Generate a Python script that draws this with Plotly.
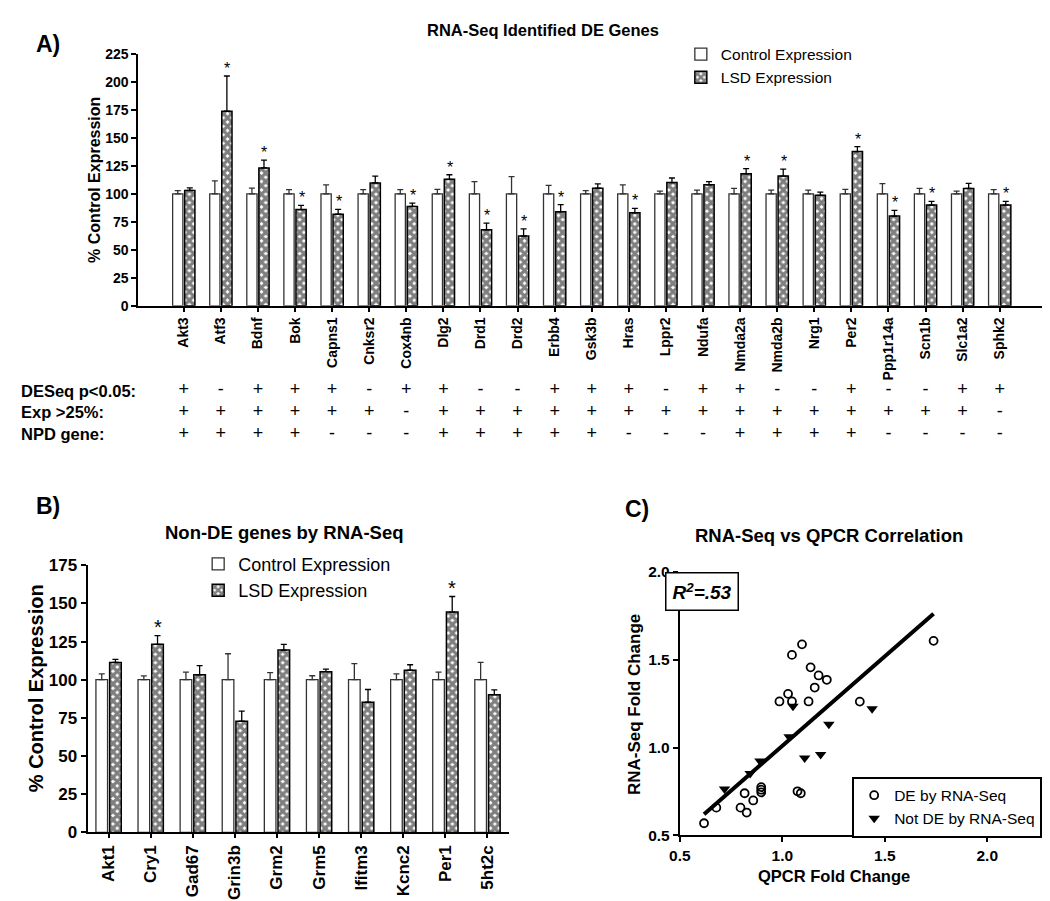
import plotly.graph_objects as go

W, H = 1050, 901
FONT = "Liberation Sans, Arial, Helvetica, sans-serif"

# ---------------- Panel A data ----------------
genes_a = ["Akt3", "Atf3", "Bdnf", "Bok", "Capns1", "Cnksr2", "Cox4nb", "Dlg2", "Drd1", "Drd2",
           "Erbb4", "Gsk3b", "Hras", "Lppr2", "Ndufa", "Nmda2a", "Nmda2b", "Nrg1", "Per2",
           "Ppp1r14a", "Scn1b", "Slc1a2", "Sphk2"]
ctrl_a = [100, 100, 100, 100, 100, 100, 100, 100, 100, 100, 100, 100, 100, 100, 100, 100,
          100, 100, 100, 100, 100, 100, 100]
ctrl_err_a = [3.0, 11.7, 5.2, 3.8, 8.2, 3.8, 3.8, 4.1, 11.0, 15.5, 7.6, 2.9, 8.2, 2.6, 3.5,
              5.0, 3.5, 3.5, 4.1, 9.3, 5.0, 2.6, 3.8]
lsd_a = [103.2, 174.0, 123.3, 86.0, 81.9, 109.9, 88.9, 113.1, 67.9, 62.4, 84.0, 105.2, 83.1,
         110.2, 108.2, 118.1, 116.0, 98.8, 137.9, 80.2, 90.1, 105.0, 90.1]
lsd_err_a = [2.3, 31.5, 7.0, 3.8, 4.4, 6.0, 2.9, 4.1, 6.1, 6.4, 6.4, 3.8, 4.1, 4.1, 2.9, 4.6,
             6.2, 2.9, 4.4, 5.2, 3.2, 4.4, 3.2]
sig_a = ["Atf3", "Bdnf", "Bok", "Capns1", "Cox4nb", "Dlg2", "Drd1", "Drd2", "Erbb4", "Hras",
         "Nmda2a", "Nmda2b", "Per2", "Ppp1r14a", "Scn1b", "Sphk2"]
row_labels = ["DESeq p<0.05:", "Exp >25%:", "NPD gene:"]
deseq = ["+", "-", "+", "+", "+", "-", "+", "+", "-", "-", "+", "+", "+", "-", "+", "+", "-",
         "-", "+", "-", "-", "+", "+"]
exp25 = ["+", "+", "+", "+", "+", "+", "-", "+", "+", "+", "+", "+", "+", "+", "+", "+", "+",
         "+", "+", "+", "+", "+", "-"]
npd = ["+", "+", "+", "+", "-", "-", "-", "+", "+", "+", "+", "+", "-", "-", "-", "+", "+",
       "+", "+", "-", "-", "-", "-"]

# ---------------- Panel B data ----------------
genes_b = ["Akt1", "Cry1", "Gad67", "Grin3b", "Grm2", "Grm5", "Ifitm3", "Kcnc2", "Per1", "5ht2c"]
ctrl_b = [100, 100, 100, 100, 100, 100, 100, 100, 100, 100]
ctrl_err_b = [3.8, 2.5, 5.0, 17.0, 4.7, 2.6, 10.6, 3.8, 5.0, 11.3]
lsd_b = [111.3, 123.2, 103.2, 72.8, 119.4, 105.3, 85.3, 106.2, 144.3, 90.2]
lsd_err_b = [2.0, 5.7, 6.0, 6.6, 3.8, 1.7, 8.3, 3.6, 10.2, 3.2]
sig_b = ["Cry1", "Per1"]

# ---------------- Panel C data ----------------
de_qpcr = [1.738, 1.096, 1.047, 1.138, 1.177, 1.217, 1.158, 1.028, 0.986, 1.047, 1.128, 1.378,
           0.897, 0.897, 0.897, 0.816, 1.074, 1.090, 0.858, 0.796, 0.826, 0.678, 0.618]
de_rnaseq = [1.608, 1.588, 1.528, 1.457, 1.411, 1.386, 1.342, 1.306, 1.263, 1.263, 1.263, 1.262,
             0.775, 0.760, 0.745, 0.740, 0.751, 0.740, 0.699, 0.658, 0.630, 0.658, 0.569]
nde_qpcr = [1.052, 1.438, 1.227, 1.033, 0.891, 1.109, 1.187, 0.843, 0.718]
nde_rnaseq = [1.236, 1.221, 1.133, 1.062, 0.923, 0.941, 0.960, 0.852, 0.764]
fit_slope = 1.02
fit_intercept = -0.01
r2_text = "R<sup>2</sup>=.53"


def fx(p):
    return p / W


def fy(p):
    return 1 - p / H


HATCH = dict(shape="x", fgcolor="black", bgcolor="white", size=6, solidity=0.78)

fig = go.Figure()

# ---- Panel A bars ----
fig.add_trace(go.Bar(
    x=genes_a, y=ctrl_a, name="Control Expression", xaxis="x", yaxis="y", legend="legend",
    marker=dict(color="white", line=dict(color="#333333", width=1.3)),
    error_y=dict(type="data", symmetric=False, array=ctrl_err_a, arrayminus=[0] * len(ctrl_a),
                 color="#333333", thickness=1.3, width=3)))
fig.add_trace(go.Bar(
    x=genes_a, y=lsd_a, name="LSD Expression", xaxis="x", yaxis="y", legend="legend",
    marker=dict(color="white", line=dict(color="black", width=1.5), pattern=HATCH),
    error_y=dict(type="data", symmetric=False, array=lsd_err_a, arrayminus=[0] * len(lsd_a),
                 color="black", thickness=1.3, width=3)))

# ---- Panel A table (+/-) ----
for i, row in enumerate([deseq, exp25, npd]):
    fig.add_trace(go.Scatter(
        x=genes_a, y=[i] * len(genes_a), mode="text", text=row, xaxis="x", yaxis="y4",
        textfont=dict(family=FONT, size=18, color="black"), showlegend=False, hoverinfo="skip"))

# ---- Panel B bars ----
fig.add_trace(go.Bar(
    x=genes_b, y=ctrl_b, name="Control Expression", xaxis="x2", yaxis="y2", legend="legend2",
    marker=dict(color="white", line=dict(color="#333333", width=1.3)),
    error_y=dict(type="data", symmetric=False, array=ctrl_err_b, arrayminus=[0] * len(ctrl_b),
                 color="#333333", thickness=1.3, width=3)))
fig.add_trace(go.Bar(
    x=genes_b, y=lsd_b, name="LSD Expression", xaxis="x2", yaxis="y2", legend="legend2",
    marker=dict(color="white", line=dict(color="black", width=1.5), pattern=HATCH),
    error_y=dict(type="data", symmetric=False, array=lsd_err_b, arrayminus=[0] * len(lsd_b),
                 color="black", thickness=1.3, width=3)))

# ---- Panel C scatter ----
all_q = de_qpcr + nde_qpcr
fit_x = [min(all_q), max(all_q)]
fit_y = [fit_slope * v + fit_intercept for v in fit_x]
fig.add_trace(go.Scatter(
    x=fit_x, y=fit_y, mode="lines", xaxis="x3", yaxis="y3", showlegend=False,
    line=dict(color="black", width=4)))
fig.add_trace(go.Scatter(
    x=de_qpcr, y=de_rnaseq, mode="markers", name="DE by RNA-Seq", xaxis="x3", yaxis="y3",
    legend="legend3",
    marker=dict(symbol="circle-open", size=8, color="black", line=dict(width=1.8, color="black"))))
fig.add_trace(go.Scatter(
    x=nde_qpcr, y=nde_rnaseq, mode="markers", name="Not DE by RNA-Seq", xaxis="x3", yaxis="y3",
    legend="legend3",
    marker=dict(symbol="triangle-down", size=10, color="black")))

tickfont = dict(family=FONT, size=14, color="black", weight="bold")
axis_common = dict(showline=True, linecolor="black", linewidth=2, ticks="outside",
                   tickcolor="black", tickwidth=2, ticklen=5, showgrid=False, zeroline=False,
                   fixedrange=True)

fig.update_layout(
    width=W, height=H, margin=dict(l=0, r=0, t=0, b=0),
    paper_bgcolor="white", plot_bgcolor="white",
    barmode="group", bargap=0.35, bargroupgap=0.15,
    font=dict(family=FONT, color="black"),
    xaxis=dict(domain=[fx(122), fx(1048)], anchor="y", type="category", tickangle=-90,
               tickfont=dict(family=FONT, size=14, color="black", weight="bold"),
               **{**axis_common, "ticklen": 4, "tickwidth": 1.5}),
    yaxis=dict(domain=[fy(295), fy(38)], anchor="x", range=[0, 225], dtick=25, tick0=0,
               tickfont=tickfont, **axis_common),
    yaxis4=dict(domain=[fy(437), fy(371)], anchor="x", range=[2.5, -0.5], visible=False,
                fixedrange=True),
    xaxis2=dict(domain=[fx(70), fx(500)], anchor="y2", type="category", tickangle=-90,
                tickfont=dict(family=FONT, size=17, color="black", weight="bold"),
                **{**axis_common, "ticklen": 4, "tickwidth": 1.5}),
    yaxis2=dict(domain=[fy(833), fy(560)], anchor="x2", range=[0, 175], dtick=25, tick0=0,
                tickfont=dict(family=FONT, size=17, color="black", weight="bold"), **axis_common),
    xaxis3=dict(domain=[fx(675), fx(989)], anchor="y3", range=[0.5, 2.0], dtick=0.5, tick0=0.5,
                tickformat=".1f", tickfont=dict(family=FONT, size=15.5, color="black",
                                                 weight="bold"), **axis_common),
    yaxis3=dict(domain=[fy(836), fy(567)], anchor="x3", range=[0.5, 2.0], dtick=0.5, tick0=0.5,
                tickformat=".1f", tickfont=dict(family=FONT, size=15.5, color="black",
                                                 weight="bold"), **axis_common),
    legend=dict(x=fx(676), y=fy(21), xanchor="left", yanchor="top",
                font=dict(family=FONT, size=15.5, color="black"), bgcolor="rgba(0,0,0,0)",
                tracegroupgap=0),
    legend2=dict(x=fx(183), y=fy(540), xanchor="left", yanchor="top",
                 font=dict(family=FONT, size=18, color="black"), bgcolor="rgba(0,0,0,0)",
                 tracegroupgap=0),
    legend3=dict(x=fx(851), y=fy(776), xanchor="left", yanchor="top",
                 font=dict(family=FONT, size=15.5, color="black"), bgcolor="white",
                 bordercolor="black", borderwidth=2, tracegroupgap=0),
    showlegend=True,
)

ann = []


def text_ann(x, y, text, size, bold=True, angle=0, xanchor="center", yanchor="middle", **kw):
    ann.append(dict(x=fx(x), y=fy(y), xref="paper", yref="paper", text=text, showarrow=False,
                    textangle=angle, xanchor=xanchor, yanchor=yanchor,
                    font=dict(family=FONT, size=size, color="black",
                              weight="bold" if bold else "normal"), **kw))


# panel letters and titles
text_ann(30, 28, "A)", 23)
text_ann(30, 500, "B)", 23)
text_ann(631, 503, "C)", 23)
text_ann(535, 13, "RNA-Seq Identified DE Genes", 16.5)
text_ann(271, 527, "Non-DE genes by RNA-Seq", 18.5)
text_ann(827, 530, "RNA-Seq vs QPCR Correlation", 18.5)

# axis titles
text_ann(77, 166, "% Control Expression", 16, angle=-90)
text_ann(17, 686, "% Control Expression", 20, angle=-90)
text_ann(628, 702, "RNA-Seq Fold Change", 17, angle=-90)
text_ann(832, 877, "QPCR Fold Change", 16.5)

# table row labels
for lbl, yy in zip(row_labels, [382, 404, 426]):
    text_ann(0, yy, lbl, 16.5, xanchor="left")

# R^2 box
ann.append(dict(x=fx(735), y=fy(587), xref="paper", yref="paper",
                text="<i>" + r2_text + "</i>", showarrow=False,
                font=dict(family=FONT, size=19, color="black", weight="bold"),
                bordercolor="black", borderwidth=1.5, borderpad=6, bgcolor="white"))

# significance stars
for g, v, e in zip(genes_a, lsd_a, lsd_err_a):
    if g in sig_a:
        ann.append(dict(x=g, y=v + e, xref="x", yref="y", text="*", showarrow=False,
                        xshift=6.5, yshift=-3, yanchor="bottom",
                        font=dict(family=FONT, size=16, color="black")))
for g, v, e in zip(genes_b, lsd_b, lsd_err_b):
    if g in sig_b:
        ann.append(dict(x=g, y=v + e, xref="x2", yref="y2", text="*", showarrow=False,
                        xshift=7, yshift=-4, yanchor="bottom",
                        font=dict(family=FONT, size=20, color="black")))

fig.update_layout(annotations=ann)
fig.write_html("out.html")
